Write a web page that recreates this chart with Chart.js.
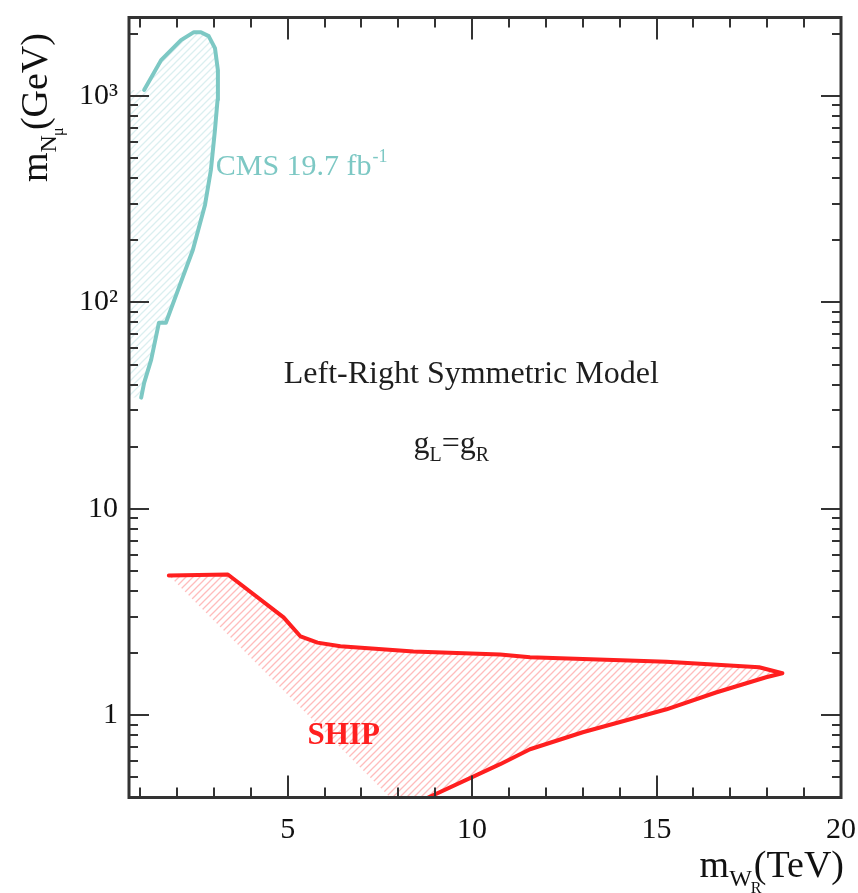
<!DOCTYPE html>
<html>
<head>
<meta charset="utf-8">
<script src="https://cdn.jsdelivr.net/npm/chart.js@4.4.1/dist/chart.umd.min.js"></script>
<style>
html,body{margin:0;padding:0;background:#fff;}
canvas{display:block;}
</style>
</head>
<body>
<canvas id="c" width="858" height="893"></canvas>
<script>
// ---- data (x: m_WR in TeV, y: m_N in GeV) ----
const cmsLineX = [1.03, 1.11, 1.30, 1.51, 1.70, 2.05, 2.43, 2.76, 2.92, 3.03, 3.10, 3.11, 3.03, 2.86, 2.65, 2.46, 2.11, 1.57, 1.11];
const cmsLineY = [34.6, 40.8, 52.7, 79.7, 79.7, 117.7, 179.6, 296.7, 437.9, 684, 955, 1334, 1706, 1950, 2038, 2038, 1864, 1492, 1069];
const cmsEdgeX = [0.7, 0.7];
const cmsEdgeY = [1069, 34.6];

const shipLineX = [1.78, 3.38, 4.89, 5.35, 5.81, 6.43, 8.41, 10.76, 11.57, 15.27, 17.78, 18.41, 17.97, 16.61, 15.27, 13.0, 11.57, 10.76, 8.68];
const shipLineY = [4.76, 4.81, 2.98, 2.41, 2.25, 2.16, 2.04, 1.97, 1.91, 1.82, 1.71, 1.60, 1.53, 1.29, 1.07, 0.828, 0.685, 0.580, 0.39];
const shipEdgeX = [7.84];
const shipEdgeY = [0.39];

const xTickValues = [5, 10, 15, 20];
const xTickLabels = ['5', '10', '15', '20'];
const yTickValues = [1, 10, 100, 1000];
const yTickLabels = ['1', '10', '10\u00B2', '10\u00B3'];

const X_MIN = 0.7, X_MAX = 20, Y_MIN = 0.4, Y_MAX = 2400;

// ---- helpers ----
function pts(xs, ys) { return xs.map((x, i) => ({ x: x, y: ys[i] })); }
function hatch(color, lw) {
  const c = document.createElement('canvas');
  c.width = 7; c.height = 7;
  const g = c.getContext('2d');
  g.strokeStyle = color; g.lineWidth = lw;
  g.beginPath();
  g.moveTo(0, 7); g.lineTo(7, 0);
  g.moveTo(-2, 2); g.lineTo(2, -2);
  g.moveTo(5, 9); g.lineTo(9, 5);
  g.stroke();
  return g.createPattern(c, 'repeat');
}
function zeroPad(s) { s.paddingLeft = 0; s.paddingRight = 0; s.paddingTop = 0; s.paddingBottom = 0; }

const cmsFillPts = pts(cmsLineX.concat(cmsEdgeX), cmsLineY.concat(cmsEdgeY));
cmsFillPts.push(cmsFillPts[0]);
const shipFillPts = pts(shipLineX.concat(shipEdgeX), shipLineY.concat(shipEdgeY));
shipFillPts.push(shipFillPts[0]);

const TEAL = '#7dc8c4';
const RED = '#ff1f1f';
const SERIF = "'Liberation Serif', 'DejaVu Serif', serif";

const decor = {
  id: 'decor',
  afterDraw(chart) {
    const { ctx, chartArea: a, scales: { x, y } } = chart;
    ctx.save();
    // inner ticks
    ctx.strokeStyle = '#333';
    ctx.lineWidth = 2;
    ctx.beginPath();
    for (let v = 1; v < X_MAX; v++) {
      const px = Math.round(x.getPixelForValue(v));
      const L = (v % 5 === 0) ? 22 : 10;
      ctx.moveTo(px, a.bottom); ctx.lineTo(px, a.bottom - L);
      ctx.moveTo(px, a.top); ctx.lineTo(px, a.top + L);
    }
    for (let d = 0.1; d <= 1000; d *= 10) {
      for (let m = 1; m <= 9; m++) {
        const v = m * d;
        if (v < Y_MIN || v > Y_MAX) continue;
        const py = Math.round(y.getPixelForValue(v));
        const L = (m === 1) ? 20 : 9;
        ctx.moveTo(a.left, py); ctx.lineTo(a.left + L, py);
        ctx.moveTo(a.right, py); ctx.lineTo(a.right - L, py);
      }
    }
    ctx.stroke();
    // frame
    ctx.lineWidth = 3;
    ctx.strokeRect(a.left, a.top, a.right - a.left, a.bottom - a.top);

    // annotations
    ctx.textBaseline = 'alphabetic';
    ctx.fillStyle = '#1e1e1e';
    ctx.font = '32px ' + SERIF;
    ctx.textAlign = 'center';
    ctx.fillText('Left-Right Symmetric Model', x.getPixelForValue(9.98), y.getPixelForValue(40.8));

    // g_L = g_R
    ctx.textAlign = 'left';
    let gx = x.getPixelForValue(8.41), gy = y.getPixelForValue(18.7);
    ctx.font = '32px ' + SERIF; ctx.fillText('g', gx, gy); gx += ctx.measureText('g').width;
    ctx.font = '20px ' + SERIF; ctx.fillText('L', gx, gy + 8); gx += ctx.measureText('L').width;
    ctx.font = '32px ' + SERIF; ctx.fillText('=g', gx, gy); gx += ctx.measureText('=g').width;
    ctx.font = '20px ' + SERIF; ctx.fillText('R', gx, gy + 8);

    // CMS label
    ctx.fillStyle = TEAL;
    let cx = x.getPixelForValue(3.05), cy = y.getPixelForValue(414);
    ctx.font = '30px ' + SERIF; ctx.fillText('CMS 19.7 fb', cx, cy); cx += ctx.measureText('CMS 19.7 fb').width;
    ctx.font = '18px ' + SERIF; ctx.fillText('-1', cx + 1, cy - 13);

    // SHIP label
    ctx.fillStyle = RED;
    ctx.font = 'bold 31px ' + SERIF;
    ctx.fillText('SHIP', x.getPixelForValue(5.54), y.getPixelForValue(0.724));

    // axis titles
    ctx.fillStyle = '#111';
    ctx.font = '38px ' + SERIF; const wm = ctx.measureText('m').width;
    ctx.font = '24px ' + SERIF; const wW = ctx.measureText('W').width;
    ctx.font = '38px ' + SERIF; const wT = ctx.measureText('(TeV)').width;
    let tx = 844 - (wm + wW + 2 + wT), ty = 877;
    ctx.font = '38px ' + SERIF; ctx.fillText('m', tx, ty); tx += wm;
    ctx.font = '24px ' + SERIF; ctx.fillText('W', tx, ty + 9); tx += wW;
    ctx.font = '16px ' + SERIF; ctx.fillText('R', tx - 1, ty + 16);
    tx += 2;
    ctx.font = '38px ' + SERIF; ctx.fillText('(TeV)', tx, ty);

    // y title
    ctx.save();
    ctx.translate(47, 182);
    ctx.rotate(-Math.PI / 2);
    let u = 0;
    ctx.font = '38px ' + SERIF; ctx.fillText('m', u, 0); u += ctx.measureText('m').width;
    ctx.font = '24px ' + SERIF; ctx.fillText('N', u, 9); u += ctx.measureText('N').width;
    ctx.font = '16px ' + SERIF; ctx.fillText('\u03BC', u - 1, 16); u += 5;
    ctx.font = '38px ' + SERIF; ctx.fillText('(GeV)', u, 0);
    ctx.restore();

    ctx.restore();
  }
};

new Chart(document.getElementById('c'), {
  type: 'scatter',
  data: {
    datasets: [
      { data: cmsFillPts, showLine: true, borderWidth: 0, borderColor: 'rgba(0,0,0,0)', pointRadius: 0,
        fill: 'shape', backgroundColor: hatch('#dbeff0', 1.3), clip: 0, order: 4 },
      { data: shipFillPts, showLine: true, borderWidth: 0, borderColor: 'rgba(0,0,0,0)', pointRadius: 0,
        fill: 'shape', backgroundColor: hatch('#ffbcbc', 1.3), clip: 0, order: 3 },
      { data: pts(cmsLineX, cmsLineY), showLine: true, borderWidth: 4, borderColor: TEAL, pointRadius: 0,
        fill: false, borderJoinStyle: 'round', borderCapStyle: 'round', clip: 0, order: 2 },
      { data: pts(shipLineX, shipLineY), showLine: true, borderWidth: 4, borderColor: RED, pointRadius: 0,
        fill: false, borderJoinStyle: 'round', borderCapStyle: 'round', clip: 0, order: 1 }
    ]
  },
  options: {
    responsive: false,
    animation: false,
    devicePixelRatio: 1,
    layout: { padding: { top: 17.5, right: 17, left: 0, bottom: 0 } },
    plugins: { legend: { display: false }, tooltip: { enabled: false } },
    scales: {
      x: {
        type: 'linear', min: X_MIN, max: X_MAX,
        grid: { display: false, drawTicks: false },
        border: { display: false },
        afterBuildTicks: s => { s.ticks = xTickValues.map(v => ({ value: v })); },
        afterFit: s => { s.height = 95.5; zeroPad(s); },
        ticks: {
          padding: 15, color: '#111', maxRotation: 0, autoSkip: false,
          font: { family: SERIF, size: 30 },
          callback: (v) => { const i = xTickValues.indexOf(v); return i >= 0 ? xTickLabels[i] : ''; }
        }
      },
      y: {
        type: 'logarithmic', min: Y_MIN, max: Y_MAX,
        grid: { display: false, drawTicks: false },
        border: { display: false },
        afterBuildTicks: s => { s.ticks = yTickValues.map(v => ({ value: v })); },
        afterFit: s => { s.width = 129; zeroPad(s); },
        ticks: {
          padding: 11, color: '#111', autoSkip: false,
          font: { family: SERIF, size: 30 },
          callback: (v) => { const i = yTickValues.indexOf(v); return i >= 0 ? yTickLabels[i] : ''; }
        }
      }
    }
  },
  plugins: [decor]
});
</script>
</body>
</html>
